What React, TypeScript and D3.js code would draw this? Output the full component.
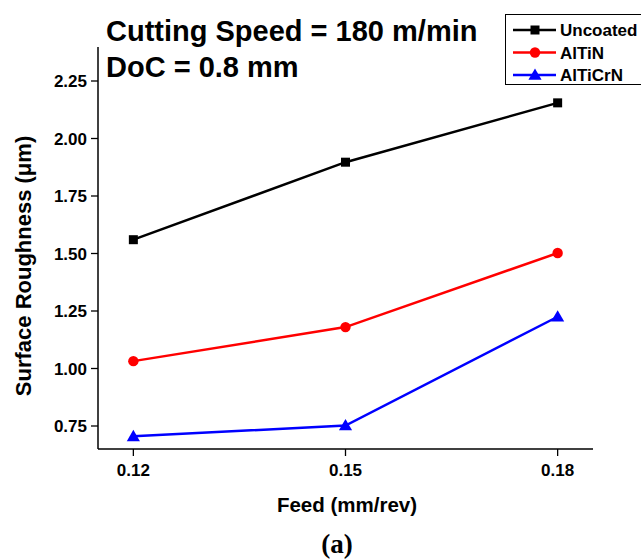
import React from "react";
import * as d3 from "d3";

// feed values (mm/rev)
const feeds = [0.12, 0.15, 0.18];
const feedLabels = ["0.12", "0.15", "0.18"];
const yTicks = [0.75, 1.0, 1.25, 1.5, 1.75, 2.0, 2.25];

// surface roughness (um)
const uncoated = [1.56, 1.897, 2.155];
const altin = [1.032, 1.18, 1.502];
const alticrn = [0.705, 0.752, 1.225];

const seriesNames = ["Uncoated", "AlTiN", "AlTiCrN"];
const seriesColors = ["#000000", "#ff0000", "#0000ff"];
const seriesMarkers = ["square", "circle", "triangle"];

const W = 641;
const H = 560;
const FONT = "'Liberation Sans', Arial, sans-serif";

function Marker(props: { kind: string; x: number; y: number; color: string }) {
    const { kind, x, y, color } = props;
    if (kind === "square") {
        return <rect x={x - 4.5} y={y - 4.5} width={9} height={9} fill={color} />;
    } else if (kind === "circle") {
        return <circle cx={x} cy={y} r={5.2} fill={color} />;
    }
    const tri = d3.symbol().type(d3.symbolTriangle).size(75)();
    return <path d={tri || ""} transform={`translate(${x},${y + 1})`} fill={color} />;
}

export default function App() {
    const x = d3.scaleLinear().domain([0.115, 0.185]).range([98, 593]);
    const y = d3.scaleLinear().domain([0.75, 2.25]).range([426, 81]);
    const yTop = 47;
    const yBottom = 449;

    const line = d3
        .line<number>()
        .x((d, i) => x(feeds[i]))
        .y((d) => y(d));

    const allSeries = [uncoated, altin, alticrn];

    return (
        <svg width={W} height={H} style={{ position: "absolute", left: 0, top: 0 }}>
            <rect width={W} height={H} fill="#fff" />

            {/* axes */}
            <line x1={98} x2={98} y1={yTop} y2={yBottom} stroke="#000" strokeWidth={1.5} />
            <line x1={98} x2={593} y1={yBottom} y2={yBottom} stroke="#000" strokeWidth={1.5} />

            {yTicks.map((t) => (
                <g key={t}>
                    <line x1={91} x2={98} y1={y(t)} y2={y(t)} stroke="#000" strokeWidth={1.3} />
                    <text
                        x={87}
                        y={y(t)}
                        dy="0.36em"
                        textAnchor="end"
                        fontFamily={FONT}
                        fontWeight="bold"
                        fontSize={17}
                    >
                        {t.toFixed(2)}
                    </text>
                </g>
            ))}

            {feeds.map((f, i) => (
                <g key={f}>
                    <line x1={x(f)} x2={x(f)} y1={yBottom} y2={yBottom + 7} stroke="#000" strokeWidth={1.3} />
                    <text
                        x={x(f)}
                        y={476}
                        textAnchor="middle"
                        fontFamily={FONT}
                        fontWeight="bold"
                        fontSize={17}
                    >
                        {feedLabels[i]}
                    </text>
                </g>
            ))}

            {/* axis titles */}
            <text
                x={347}
                y={512}
                textAnchor="middle"
                fontFamily={FONT}
                fontWeight="bold"
                fontSize={20.5}
            >
                Feed (mm/rev)
            </text>
            <text
                transform="translate(31,266) rotate(-90)"
                textAnchor="middle"
                fontFamily={FONT}
                fontWeight="bold"
                fontSize={22}
            >
                Surface Roughness (μm)
            </text>

            {/* series */}
            {allSeries.map((s, si) => (
                <g key={seriesNames[si]}>
                    <path d={line(s) || ""} fill="none" stroke={seriesColors[si]} strokeWidth={2.5} />
                    {s.map((v, i) => (
                        <Marker key={i} kind={seriesMarkers[si]} x={x(feeds[i])} y={y(v)} color={seriesColors[si]} />
                    ))}
                </g>
            ))}

            {/* condition text */}
            <text x={106} y={41} fontFamily={FONT} fontWeight="bold" fontSize={29}>
                Cutting Speed = 180 m/min
            </text>
            <text x={106} y={77} fontFamily={FONT} fontWeight="bold" fontSize={29}>
                DoC = 0.8 mm
            </text>

            {/* legend */}
            <rect x={505.5} y={14.5} width={150} height={70} fill="#fff" stroke="#000" strokeWidth={1} />
            {seriesNames.map((n, i) => {
                const ly = 30 + i * 22.5;
                return (
                    <g key={n}>
                        <line x1={513} x2={556} y1={ly} y2={ly} stroke={seriesColors[i]} strokeWidth={2.5} />
                        <Marker kind={seriesMarkers[i]} x={535} y={ly} color={seriesColors[i]} />
                        <text x={560} y={ly} dy="0.36em" fontFamily={FONT} fontWeight="bold" fontSize={17}>
                            {n}
                        </text>
                    </g>
                );
            })}

            {/* panel caption */}
            <text
                x={337}
                y={553}
                textAnchor="middle"
                fontFamily="'Liberation Serif', 'Times New Roman', serif"
                fontWeight="bold"
                fontSize={27}
            >
                (a)
            </text>
        </svg>
    );
}
